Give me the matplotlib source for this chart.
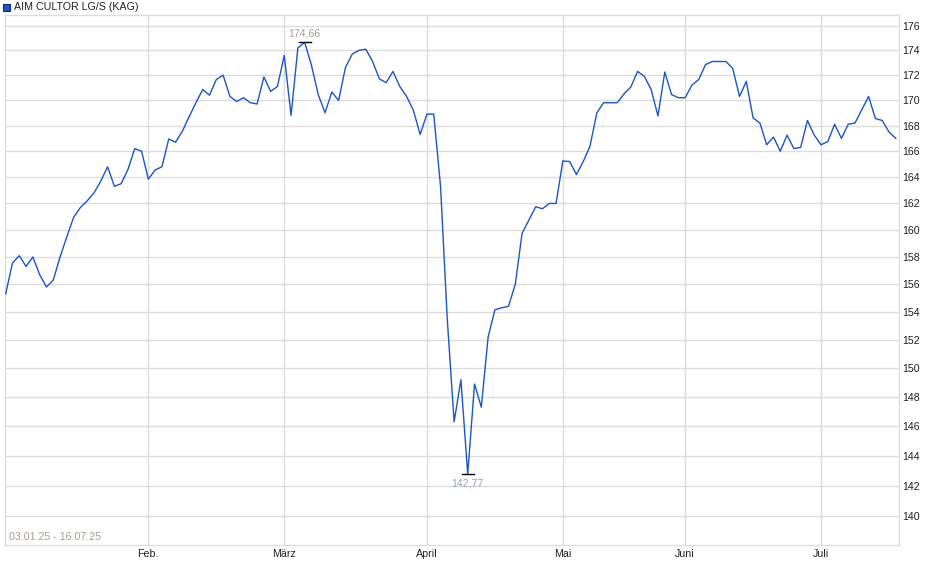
import numpy as np
import matplotlib
matplotlib.use("Agg")
import matplotlib.pyplot as plt
from matplotlib.patches import Rectangle

# fund price, one value per trading day (03.01.25 - 16.07.25)
prices = [
    155.3, 157.55, 158.1, 157.3, 158.0, 156.7, 155.8, 156.3, 158.0, 159.5,
    160.95, 161.7, 162.2, 162.8, 163.7, 164.8, 163.3, 163.5, 164.6, 166.2,
    166.0,
    163.85, 164.55, 164.8, 166.95, 166.7, 167.55, 168.7, 169.8, 170.85, 170.4,
    171.65, 172.0, 170.3, 169.9, 170.2, 169.8, 169.7, 171.85, 170.7, 171.1,
    173.6, 168.8, 174.2, 174.66, 172.8, 170.45, 169.0, 170.65, 169.98, 172.6,
    173.7, 174.0, 174.1, 173.1, 171.7, 171.4, 172.3, 171.1, 170.3, 169.2,
    167.3,
    168.9, 168.9, 163.3, 153.4, 146.3, 149.2, 142.77, 148.9, 147.3, 152.2,
    154.15, 154.3, 154.4, 156.0, 159.75, 160.75, 161.75, 161.6, 162.0, 162.0,
    165.25, 165.2, 164.2, 165.2, 166.4, 169.0, 169.8, 169.8, 169.8, 170.5,
    171.05, 172.3, 171.9, 170.85, 168.75, 172.25, 170.45, 170.2,
    170.2, 171.2, 171.65, 172.85, 173.1, 173.1, 173.1, 172.55, 170.3, 171.5,
    168.6, 168.2, 166.5, 167.1, 166.0, 167.25, 166.2, 166.3, 168.4, 167.25,
    166.5, 166.75, 168.1, 167.0, 168.1, 168.2, 169.25, 170.3, 168.55, 168.4,
    167.5, 167.0,
]

# first trading day of each month (index into prices)
month_idx = [21, 41, 62, 82, 100, 120]
month_labels = ["Feb.", "März", "April", "Mai", "Juni", "Juli"]
y_ticks = list(range(140, 177, 2))

series_name = "AIM CULTOR LG/S (KAG)"
date_range = "03.01.25 - 16.07.25"

LINE = "#1a56c4"
GRID = "#dcdcdc"

plt.rcParams["font.family"] = ["Liberation Sans", "DejaVu Sans"]

fig = plt.figure(figsize=(9.40, 5.79), dpi=100)
ax = fig.add_axes([5 / 940, 1 - 545 / 579, 893.5 / 940, 530 / 579])

x = np.arange(len(prices))
ax.plot(x, prices, color=LINE, lw=1.0, zorder=3)

ax.set_yscale("log")
ax.set_ylim(138.12, 176.9)
ax.set_xlim(-0.1, len(prices) - 0.6)

ax.yaxis.set_minor_locator(matplotlib.ticker.NullLocator())
ax.set_yticks(y_ticks)
ax.set_yticklabels([str(v) for v in y_ticks])
ax.yaxis.tick_right()
ax.set_xticks(month_idx)
ax.set_xticklabels(month_labels)
ax.tick_params(axis="both", length=0, labelsize=7.7, colors="#222222")
ax.tick_params(axis="y", pad=3)
ax.tick_params(axis="x", pad=3)

ax.grid(True, color=GRID, lw=1.0, zorder=0)
for s in ax.spines.values():
    s.set_color(GRID)
    s.set_linewidth(1.0)

# max / min annotations
i_max = int(np.argmax(prices))
i_min = int(np.argmin(prices))
ax.plot([i_max - 0.9, i_max + 0.9], [prices[i_max]] * 2, color="black", lw=1.0, zorder=4)
ax.plot([i_min - 0.9, i_min + 0.9], [prices[i_min]] * 2, color="black", lw=1.0, zorder=4)
ax.annotate(f"{prices[i_max]:.2f}".replace(".", ","), (i_max, prices[i_max]),
            xytext=(0, 3), textcoords="offset points", ha="center", va="bottom",
            fontsize=7.7, color="#a99d8f")
ax.annotate(f"{prices[i_min]:.2f}".replace(".", ","), (i_min, prices[i_min]),
            xytext=(0, -3), textcoords="offset points", ha="center", va="top",
            fontsize=7.7, color="#97a2b3")

ax.text(0.004, 0.006, date_range, transform=ax.transAxes, ha="left", va="bottom",
        fontsize=7.7, color="#a99d8f")

# legend above the plot
fig.patches.append(Rectangle((3 / 940, 1 - 11 / 579), 7 / 940, 7 / 579,
                             transform=fig.transFigure, facecolor=LINE,
                             edgecolor="#0b2f7a", lw=0.8))
fig.text(14 / 940, 1 - 6.5 / 579, series_name, ha="left", va="center",
         fontsize=7.7, color="#222222")

fig.savefig("out.png", dpi=100)
